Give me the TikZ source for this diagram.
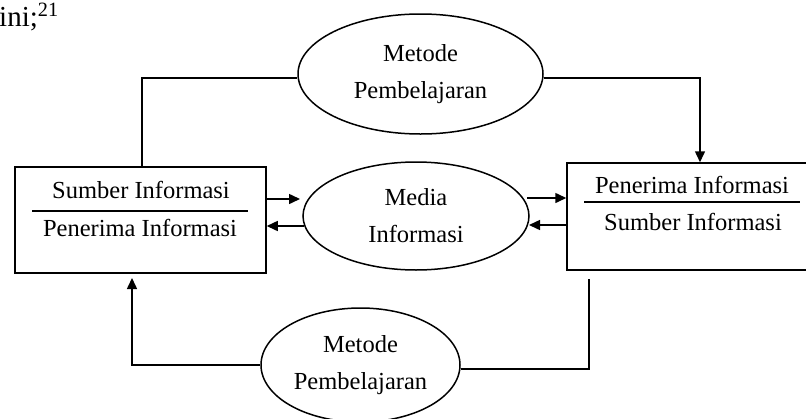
\documentclass[tikz,border=0pt]{standalone}
\usepackage{fontspec}
\setmainfont{Liberation Serif}
\usetikzlibrary{shapes.geometric,arrows.meta,calc}
\tikzset{
  ln/.style={line width=1.5pt, black},
  arr/.style={ln, -{Triangle[length=11pt,width=10pt]}},
  ell/.style={ellipse, draw, ln, inner sep=0pt, align=center, font=\fontsize{24.5}{37}\selectfont},
  box/.style={rectangle, draw, ln, inner sep=0pt},
  lbl/.style={inner sep=0pt, font=\fontsize{24.5}{28}\selectfont}
}
\begin{document}
\begin{tikzpicture}[x=1pt,y=-1pt]
\useasboundingbox (0,0) rectangle (806,418);
\clip (0,0) rectangle (806,418);
\fill[white] (0,0) rectangle (806,418);

% header text
\node[anchor=base west, inner sep=0pt, font=\fontsize{29}{32}\selectfont] (hdr) at (-1,26) {ini;\textsuperscript{21}};

% ellipses
\node[ell, minimum width=245pt, minimum height=120pt] (T) at (420.5,74) {Metode\\Pembelajaran};
\node[ell, minimum width=226pt, minimum height=108pt] (M) at (416,216) {Media\\Informasi};
\node[ell, minimum width=199pt, minimum height=114pt] (B) at (360.5,365) {Metode\\Pembelajaran};

% boxes
\node[box, minimum width=251pt, minimum height=106pt] (L) at (140.5,220) {};
\node[box, minimum width=241pt, minimum height=107pt] (R) at (687.5,216.5) {};

% box texts
\node[lbl] (L1) at (141,190) {Sumber Informasi};
\node[lbl] (L2) at (140,228) {Penerima Informasi};
\draw[ln] (32,211) coordinate (ld1) -- (248,211) coordinate (ld2);
\node[lbl] (R1) at (692,185) {Penerima Informasi};
\node[lbl] (R2) at (693,222) {Sumber Informasi};
\draw[ln] (584,202) coordinate (rd1) -- (800,202) coordinate (rd2);

% middle arrows
\coordinate (a1) at (300,199);
\coordinate (a2) at (304,226);
\coordinate (a3) at (527,198);
\coordinate (a4) at (529,225);
\draw[arr] (L.east |- a1) -- (a1);
\draw[arr] (a2) -- (L.east |- a2);
\draw[arr] (a3) -- (R.west |- a3);
\draw[arr] (R.west |- a4) -- (a4);

% top connectors
\coordinate (t1) at (142,0);
\coordinate (t2) at (700,0);
\draw[ln] (L.north -| t1) |- ($(T.west)+(0,4)$);
\draw[arr] ($(T.east)+(0,4)$) -| (R.north -| t2);

% bottom connectors
\coordinate (b1) at (132,278);
\coordinate (b2) at (589,279);
\draw[arr] (B.west) -| (b1);
\draw[ln] ($(B.east)+(0,4)$) -| (b2);
\end{tikzpicture}
\end{document}
